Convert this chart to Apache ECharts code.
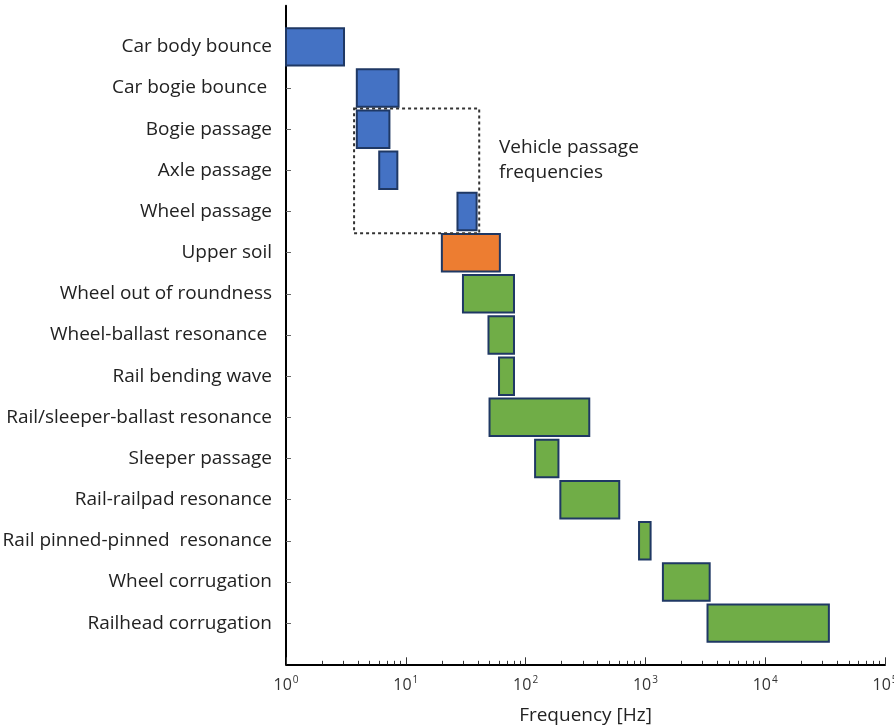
<!DOCTYPE html>
<html>
<head>
<meta charset="utf-8">
<script src="https://cdn.jsdelivr.net/npm/echarts@6/dist/echarts.min.js"></script>
<style>
html,body{margin:0;padding:0;background:#fff;}
#chart{width:894px;height:727px;}
</style>
</head>
<body>
<div id="chart"></div>
<script>
// ---- data ----
var categories = [
  'Car body bounce', 'Car bogie bounce ', 'Bogie passage', 'Axle passage', 'Wheel passage',
  'Upper soil', 'Wheel out of roundness', 'Wheel-ballast resonance ', 'Rail bending wave',
  'Rail/sleeper-ballast resonance', 'Sleeper passage', 'Rail-railpad resonance',
  'Rail pinned-pinned  resonance', 'Wheel corrugation', 'Railhead corrugation'
];
var lowHz  = [1.0, 3.9, 3.9, 6.0, 27, 20, 30, 49, 60, 50, 120, 195, 885, 1400, 3300];
var highHz = [3.05, 8.7, 7.3, 8.5, 39, 61, 80, 80, 80, 340, 188, 605, 1105, 3440, 34000];
var groups = ['vehicle','vehicle','vehicle','vehicle','vehicle','soil',
  'track','track','track','track','track','track','track','track','track'];
var xTickValues = [1, 10, 100, 1000, 10000, 100000];
var xMinorTicks = [2,3,4,5,6,7,8,9,20,30,40,50,60,70,80,90,200,300,400,500,600,700,800,900,
  2000,3000,4000,5000,6000,7000,8000,9000,20000,30000,40000,50000,60000,70000,80000,90000];
var passageBox = {xFrom: 3.7, xTo: 41, rowFrom: 2.5, rowTo: 5.53};
var annotation = {text: 'Vehicle passage\nfrequencies', x: 60, row: 3.75};

var groupColors = {vehicle: '#4472C4', soil: '#ED7D31', track: '#70AD47'};
var rowValues = categories.map(function (c, i) { return i + 1; });

var barData = categories.map(function (c, i) {
  return {value: [lowHz[i], highHz[i], i + 1], itemStyle: {color: groupColors[groups[i]]}};
});

var FONT = 'Open Sans';
var chart = echarts.init(document.getElementById('chart'));
var option = {
  animation: false,
  backgroundColor: '#fff',
  grid: {left: 286, top: 5.7, right: 9, bottom: 62.7, containLabel: false, outerBoundsMode: 'none'},
  xAxis: [{
    type: 'log', logBase: 10, min: 1, max: 100000, position: 'bottom',
    name: 'Frequency [Hz]', nameLocation: 'middle', nameGap: 42,
    nameTextStyle: {fontFamily: FONT, fontSize: 19, color: '#222'},
    axisLine: {onZero: false, lineStyle: {color: '#000', width: 2}},
    axisTick: {inside: true, length: 7, customValues: xTickValues, lineStyle: {color: '#333', width: 1}},
    splitLine: {show: false},
    axisLabel: {
      margin: 11,
      customValues: xTickValues,
      formatter: function (v) {
        var e = Math.round(Math.log10(v));
        return '{b|10}{e|' + e + '}';
      },
      rich: {
        b: {fontFamily: FONT, fontSize: 16, color: '#333'},
        e: {fontFamily: FONT, fontSize: 10, color: '#333', padding: [0, 0, 11, 1]}
      }
    }
  }, {
    type: 'log', logBase: 10, min: 1, max: 100000, position: 'bottom', offset: 0,
    axisLine: {show: false, onZero: false},
    axisLabel: {show: false},
    splitLine: {show: false},
    axisTick: {inside: true, length: 3.5, customValues: xMinorTicks, lineStyle: {color: '#333', width: 1}}
  }],
  yAxis: {
    type: 'value', min: 0, max: 16, inverse: true,
    axisLine: {show: true, onZero: false, lineStyle: {color: '#000', width: 2}},
    splitLine: {show: false},
    axisTick: {show: true, inside: true, length: 5, customValues: rowValues, lineStyle: {color: '#666'}},
    axisLabel: {
      customValues: rowValues, margin: 14,
      fontFamily: FONT, fontSize: 19, color: '#222',
      formatter: function (v) { return categories[Math.round(v) - 1] || ''; }
    }
  },
  series: [{
    type: 'custom',
    coordinateSystem: 'cartesian2d',
    encode: {x: [0, 1], y: 2},
    data: barData,
    renderItem: function (params, api) {
      var p0 = api.coord([api.value(0), api.value(2) - 0.455]);
      var p1 = api.coord([api.value(1), api.value(2) + 0.455]);
      return {
        type: 'rect',
        shape: {x: p0[0], y: p0[1], width: p1[0] - p0[0], height: p1[1] - p0[1]},
        style: {fill: api.visual('color'), stroke: '#1F3864', lineWidth: 2}
      };
    }
  }, {
    type: 'custom',
    coordinateSystem: 'cartesian2d',
    data: [[passageBox.xFrom, passageBox.xTo, passageBox.rowFrom, passageBox.rowTo]],
    encode: {x: [0, 1], y: [2, 3]},
    silent: true,
    renderItem: function (params, api) {
      var p0 = api.coord([api.value(0), api.value(2)]);
      var p1 = api.coord([api.value(1), api.value(3)]);
      var t = api.coord([annotation.x, annotation.row]);
      return {
        type: 'group',
        children: [{
          type: 'rect',
          shape: {x: p0[0], y: p0[1], width: p1[0] - p0[0], height: p1[1] - p0[1]},
          style: {fill: 'none', stroke: '#333', lineWidth: 2, lineDash: [3, 3]}
        }, {
          type: 'text',
          x: t[0], y: t[1],
          style: {text: annotation.text, fontFamily: FONT, fontSize: 19, fill: '#222',
            align: 'left', verticalAlign: 'middle', lineHeight: 25}
        }]
      };
    }
  }]
};
chart.setOption(option);
</script>
</body>
</html>
